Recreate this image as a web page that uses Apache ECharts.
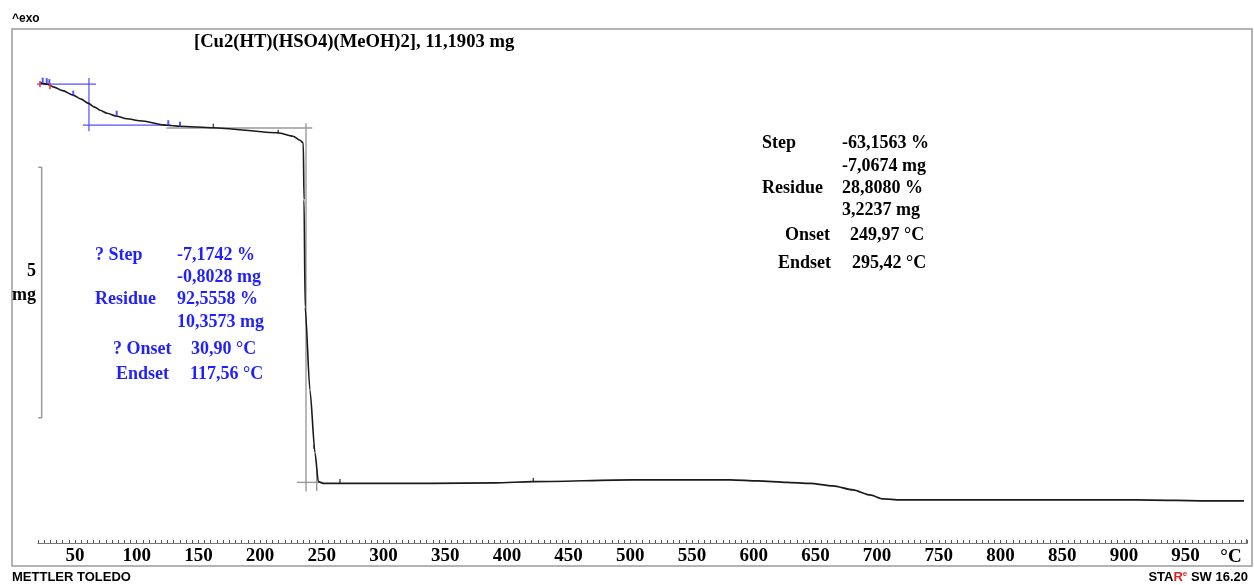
<!DOCTYPE html>
<html>
<head>
<meta charset="utf-8">
<script src="https://cdn.jsdelivr.net/npm/echarts@6/dist/echarts.min.js"></script>
<style>
html,body{margin:0;padding:0;background:#fff;}
#chart{width:1254px;height:585px;}
</style>
</head>
<body>
<div id="chart"></div>
<script>
// ---- data (temperature in °C, mass in mg) ----
const temps = [21.6, 27.3, 33.0, 40.0, 48.4, 55.0, 60.5, 66.0, 70.3, 76.0, 83.8, 92.0, 102.7, 124.3, 135.1, 161.8, 214.5, 226.7, 232.3, 235.0, 235.6, 236.5, 240.4, 244.5, 247.2, 251.0, 339.1, 390.4, 421.2, 502.2, 556.5, 580.8, 603.5, 626.7, 645.6, 664.2, 680.5, 694.2, 704.8, 718.6, 910.6, 973.8, 997.3];
const masses = [11.19, 11.16, 11.10, 11.03, 10.94, 10.86, 10.78, 10.70, 10.64, 10.58, 10.52, 10.47, 10.43, 10.34, 10.32, 10.29, 10.19, 10.12, 10.04, 9.985, 8.85, 6.71, 5.05, 3.80, 3.225, 3.19, 3.19, 3.20, 3.225, 3.26, 3.26, 3.26, 3.24, 3.21, 3.19, 3.14, 3.06, 2.96, 2.88, 2.86, 2.86, 2.84, 2.84];

// evaluation markers on the curve
const blueMarkT = [23.8, 27.1, 29.2, 48.6, 83.8, 125.6, 135.1];
const blueMarkM = [11.24, 11.23, 11.21, 10.98, 10.58, 10.39, 10.36];
const redMarkT = [21.6, 29.7];
const redMarkM = [11.16, 11.12];
const blackMarkT = [162.1, 214.7, 243.7, 264.7, 421.4];
const blackMarkM = [10.33, 10.21, 3.92, 3.24, 3.26];

// construction lines (each: [T1, m1, T2, m2])
const blueLines = [
  [18.4, 11.16, 67.0, 11.16],
  [61.3, 11.28, 61.3, 10.22],
  [56.5, 10.34, 128.0, 10.34]
];
const grayLines = [
  [124.0, 10.285, 242.3, 10.285],
  [237.2, 10.38, 237.2, 3.03],
  [245.9, 3.46, 245.9, 3.04],
  [229.8, 3.21, 251.0, 3.21]
];
// 5 mg scale bar
const scaleBarT = [20.2, 23.0, 23.0, 20.2];
const scaleBarM = [9.5, 9.5, 4.5, 4.5];

// tick labels
const xTickLabels = [50,100,150,200,250,300,350,400,450,500,550,600,650,700,750,800,850,900,950];

// annotation texts
const title = '[Cu2(HT)(HSO4)(MeOH)2], 11,1903 mg';
const step1Names = ['? Step', 'Residue', '? Onset', 'Endset'];
const step1Values = ['-7,1742 %', '-0,8028 mg', '92,5558 %', '10,3573 mg', '30,90 °C', '117,56 °C'];
const step2Names = ['Step', 'Residue', 'Onset', 'Endset'];
const step2Values = ['-63,1563 %', '-7,0674 mg', '28,8080 %', '3,2237 mg', '249,97 °C', '295,42 °C'];

// ---- chart ----
const SERIF = '"Liberation Serif","Times New Roman",serif';
const SANS = '"Liberation Sans",Arial,sans-serif';
const BLUE = '#1f1fff';

const chart = echarts.init(document.getElementById('chart'), null, {renderer:'canvas'});

const series = [];
series.push({
  type:'line', data: temps.map((t,i)=>[t, masses[i]]), showSymbol:false,
  smooth:0.25, smoothMonotone:'x', clip:false, z:5,
  lineStyle:{color:'#1a1a1a', width:1.6}
});
blueLines.forEach(l => series.push({
  type:'line', data:[[l[0],l[1]],[l[2],l[3]]], showSymbol:false, clip:false, z:3,
  lineStyle:{color:'#5050ff', width:1.2}
}));
grayLines.forEach(l => series.push({
  type:'line', data:[[l[0],l[1]],[l[2],l[3]]], showSymbol:false, clip:false, z:3,
  lineStyle:{color:'#9a9a9a', width:1.4}
}));
series.push({
  type:'line', data: scaleBarT.map((t,i)=>[t, scaleBarM[i]]), showSymbol:false, clip:false,
  lineStyle:{color:'#9a9a9a', width:1.5}
});
series.push({
  type:'scatter', data: blueMarkT.map((t,i)=>[t, blueMarkM[i]]), symbol:'rect', symbolSize:[2,5],
  itemStyle:{color:'#2a2aff'}, clip:false, z:6
});
series.push({
  type:'scatter', data: redMarkT.map((t,i)=>[t, redMarkM[i]]), symbol:'rect', symbolSize:[2,6],
  itemStyle:{color:'#ff3030'}, clip:false, z:6
});
series.push({
  type:'scatter', data: blackMarkT.map((t,i)=>[t, blackMarkM[i]]), symbol:'rect', symbolSize:[1.5,4],
  itemStyle:{color:'#222'}, clip:false, z:6
});

function txt(text, x, y, opts) {
  return {
    type:'text', x:x, y:y, z:10,
    style:Object.assign({text:text, font:'bold 18px ' + SERIF, fill:'#000', textAlign:'left', textVerticalAlign:'middle'}, opts||{})
  };
}

const graphics = [
  {type:'rect', shape:{x:12, y:29, width:1240, height:537}, style:{fill:'none', stroke:'#9a9a9a', lineWidth:1.5}, z:1},
  {type:'line', shape:{x1:1246.5, y1:543, x2:1246.5, y2:539}, style:{stroke:'#777', lineWidth:1.2}, z:1},
  txt('^exo', 12, 19, {font:'bold 12px ' + SANS}),
  txt(title, 194, 42, {font:'bold 18.6px ' + SERIF}),
  txt('5', 36, 271, {textAlign:'right'}),
  txt('mg', 36, 295, {textAlign:'right'}),
  txt('°C', 1231, 557, {textAlign:'center', font:'bold 19px ' + SERIF}),
  txt('METTLER TOLEDO', 12, 577, {font:'bold 13px ' + SANS}),
  {type:'text', x:1248, y:577, z:10, style:{
    text:'{k|STA}{r|R}{s|e}{k| SW 16.20}', textAlign:'right', textVerticalAlign:'middle',
    rich:{
      k:{font:'bold 13px ' + SANS, fill:'#000'},
      r:{font:'bold 13px ' + SANS, fill:'#e02020'},
      s:{font:'bold 8px ' + SANS, fill:'#e02020', verticalAlign:'top', padding:[0,0,6,0]}
    }
  }}
];

// first step annotation (blue)
const b = {fill:BLUE};
graphics.push(txt(step1Names[0], 95, 255, b));
graphics.push(txt(step1Values[0], 177, 255, b));
graphics.push(txt(step1Values[1], 177, 277, b));
graphics.push(txt(step1Names[1], 95, 299, b));
graphics.push(txt(step1Values[2], 177, 299, b));
graphics.push(txt(step1Values[3], 177, 322, b));
graphics.push(txt(step1Names[2], 113, 349, b));
graphics.push(txt(step1Values[4], 191, 349, b));
graphics.push(txt(step1Names[3], 116, 374, b));
graphics.push(txt(step1Values[5], 190, 374, b));
// second step annotation (black)
graphics.push(txt(step2Names[0], 762, 143));
graphics.push(txt(step2Values[0], 842, 143));
graphics.push(txt(step2Values[1], 842, 166));
graphics.push(txt(step2Names[1], 762, 188));
graphics.push(txt(step2Values[2], 842, 188));
graphics.push(txt(step2Values[3], 842, 210));
graphics.push(txt(step2Names[2], 785, 235));
graphics.push(txt(step2Values[4], 850, 235));
graphics.push(txt(step2Names[3], 778, 263));
graphics.push(txt(step2Values[5], 852, 263));

chart.setOption({
  animation:false,
  backgroundColor:'#fff',
  grid:{left:37.98, right:6.7, top:17, bottom:42, containLabel:false},
  xAxis:{
    type:'value', min:20, max:1000, interval:5,
    axisLine:{onZero:false, lineStyle:{color:'#777', width:1.2}},
    axisTick:{inside:true, length:3, lineStyle:{color:'#555', width:1}},
    axisLabel:{
      margin:4, color:'#000', fontFamily:SERIF, fontWeight:'bold', fontSize:19,
      showMinLabel:true, showMaxLabel:true,
      formatter:function(v){ return xTickLabels.indexOf(Math.round(v)) >= 0 ? String(Math.round(v)) : ''; }
    },
    splitLine:{show:false}
  },
  yAxis:{type:'value', min:2, max:12.5, show:false, splitLine:{show:false}},
  series:series,
  graphic:graphics
});
</script>
</body>
</html>
